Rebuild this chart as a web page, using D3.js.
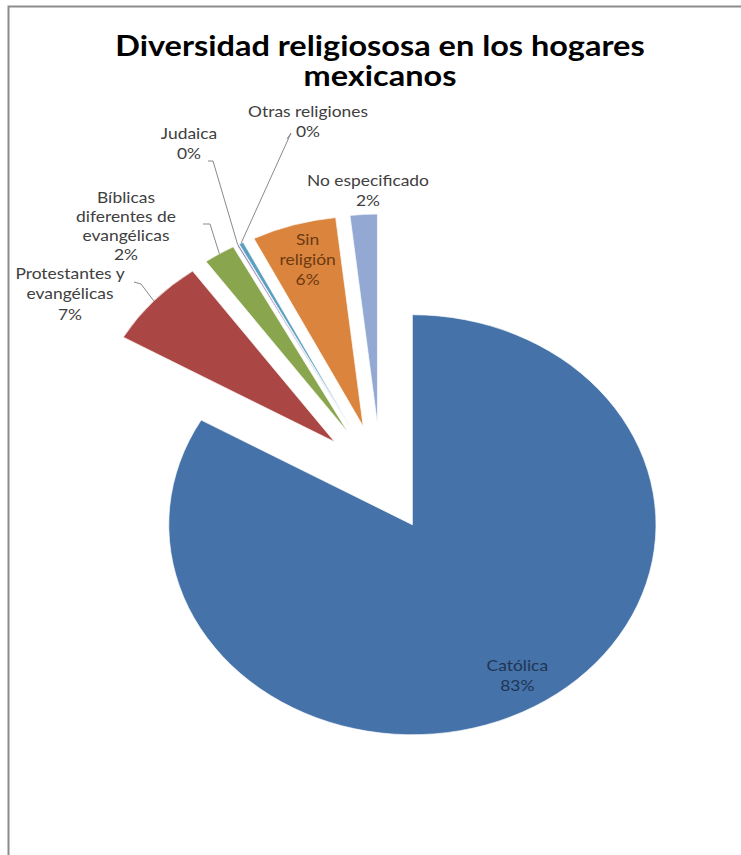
<!DOCTYPE html>
<html>
<head>
<meta charset="utf-8">
<script src="https://cdn.jsdelivr.net/npm/d3@7"></script>
<style>
  html, body { margin: 0; padding: 0; background: #fff; }
  svg { display: block; }
  text { font-family: Lato, "Open Sans", sans-serif; }
</style>
</head>
<body>
<svg id="chart" width="741" height="855"></svg>
<script>
var categories = [
  'Católica',
  'Protestantes y evangélicas',
  'Bíblicas diferentes de evangélicas',
  'Judaica',
  'Otras religiones',
  'Sin religión',
  'No especificado'
];
var values = [83.3, 6.8, 2.1, 0.1, 0.3, 5.6, 1.8];
var percentLabels = ['83%', '7%', '2%', '0%', '0%', '6%', '2%'];
var colors = ['#4572a8', '#aa4643', '#89a64e', '#7a62a0', '#5aa0c0', '#db843d', '#93a9d4'];
var titleLines = ['Diversidad religiososa en los hogares', 'mexicanos'];

// label layout: wrapped lines, anchor point, and for outside labels the leader start
var labelLines = [
  ['Católica'],
  ['Protestantes y', 'evangélicas'],
  ['Bíblicas', 'diferentes de', 'evangélicas'],
  ['Judaica'],
  ['Otras religiones'],
  ['Sin', 'religión'],
  ['No especificado']
];
var outsideLabels = {
  1: { x: 70, y: 279, step: 20.5, leader: [[134, 282], [141, 284]] },
  2: { x: 126, y: 203, step: 19, leader: [[203, 224], [210, 224]] },
  3: { x: 189, y: 139, step: 20, leader: [[208, 161], [213, 161]] },
  4: { x: 308, y: 117, step: 20, leader: [[287, 139], [291, 133]] },
  6: { x: 368, y: 186, step: 20, leader: null }
};
var insideLabelRadius = { 0: 0.86, 5: 0.8 };

var width = 741;
var height = 855;
var center = [381, 478];
var radius = 210;
var stretchX = 1.16;
var explode = 54;

var svg = d3.select('#chart');

// chart border (top and left visible)
svg.append('path')
  .attr('d', 'M8.5,855 L8.5,6.5 L741,6.5')
  .attr('fill', 'none')
  .attr('stroke', '#8c8c8c')
  .attr('stroke-width', 2);

// the whole picture is stretched sideways, text included
function stretchedText(parent, x, y) {
  return parent.append('g')
    .attr('transform', 'translate(' + x + ',' + y + ') scale(' + stretchX + ',1)')
    .append('text')
    .attr('text-anchor', 'middle');
}

var title = stretchedText(svg, 380, 56)
  .attr('font-size', 28)
  .attr('font-weight', 'bold')
  .attr('fill', '#000');
title.selectAll('tspan')
  .data(titleLines)
  .enter()
  .append('tspan')
  .attr('x', 0)
  .attr('dy', function(d, i) { return i === 0 ? 0 : 30; })
  .text(function(d) { return d; });

var pie = d3.pie().sort(null).value(function(d) { return d; });
var arcs = pie(values);
var arc = d3.arc().innerRadius(0).outerRadius(radius);

function midAngle(a) {
  return (a.startAngle + a.endAngle) / 2;
}

// screen point at distance r along angle, for an exploded slice
function toScreen(angle, r) {
  var dx = Math.sin(angle) * (explode + r);
  var dy = -Math.cos(angle) * (explode + r);
  return [center[0] + dx * stretchX, center[1] + dy];
}

var slicesRoot = svg.append('g')
  .attr('transform', 'translate(' + center[0] + ',' + center[1] + ') scale(' + stretchX + ',1)');

slicesRoot.selectAll('.slice')
  .data(arcs)
  .enter()
  .append('path')
  .classed('slice', true)
  .attr('transform', function(d) {
    var a = midAngle(d);
    return 'translate(' + (Math.sin(a) * explode) + ',' + (-Math.cos(a) * explode) + ')';
  })
  .attr('d', arc)
  .attr('fill', function(d, i) { return colors[i]; })
  .attr('stroke', '#fff')
  .attr('stroke-width', 0.6);

// leader lines
var leaderRoot = svg.append('g');
Object.keys(outsideLabels).forEach(function(key) {
  var lab = outsideLabels[key];
  if (!lab.leader) return;
  var end = toScreen(midAngle(arcs[key]), radius);
  var pts = lab.leader.concat([end]);
  leaderRoot.append('path')
    .attr('d', d3.line()(pts))
    .attr('fill', 'none')
    .attr('stroke', '#8a8a8a')
    .attr('stroke-width', 1);
});

// labels
var labelRoot = svg.append('g');
arcs.forEach(function(d, i) {
  var lines = labelLines[i].concat([percentLabels[i]]);
  var pos;
  var step = 20;
  var fill = '#404040';
  if (outsideLabels[i]) {
    pos = [outsideLabels[i].x, outsideLabels[i].y];
    step = outsideLabels[i].step;
  } else {
    var p = toScreen(midAngle(d), radius * insideLabelRadius[i]);
    pos = [p[0], p[1] - (lines.length - 1) * 10];
    fill = i === 0 ? '#1f3556' : '#6b3a12';
  }
  var t = stretchedText(labelRoot, pos[0], pos[1])
    .attr('font-size', 15)
    .attr('fill', fill);
  t.selectAll('tspan')
    .data(lines)
    .enter()
    .append('tspan')
    .attr('x', 0)
    .attr('dy', function(l, j) { return j === 0 ? 0 : step; })
    .text(function(l) { return l; });
});
</script>
</body>
</html>
